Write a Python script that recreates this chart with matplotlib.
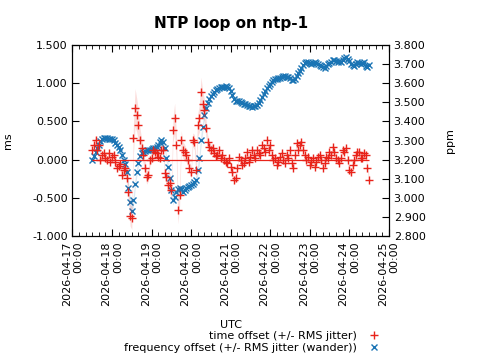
import matplotlib
matplotlib.use("Agg")
import matplotlib.pyplot as plt
import matplotlib.dates as mdates
import numpy as np
import pandas as pd

# hourly samples, starting 2026-04-17 12:00 UTC
times = pd.date_range("2026-04-17 12:00", periods=169, freq="1h")

# time offset (ms)
offset = [0.13, 0.19, 0.26, 0.13, 0.19, -0.01, 0.06, 0.09, 0.02, -0.01,
          0.09, -0.03, 0.03, 0.06, -0.03, -0.11, -0.08, -0.06, -0.20, -0.14,
          -0.11, -0.24, -0.42, -0.73, -0.76, 0.28, 0.68, 0.58, 0.45, 0.26,
          0.15, 0.06, -0.11, -0.23, -0.20, -0.01, 0.02, 0.13, 0.10, 0.09,
          0.03, 0.02, 0.13, 0.13, -0.18, -0.23, -0.33, -0.31, -0.40, 0.39,
          0.54, 0.19, -0.66, -0.46, 0.26, 0.13, 0.10, 0.06, -0.01, -0.11,
          -0.16, 0.26, 0.23, -0.14, 0.45, 0.54, 0.88, 0.73, 0.65, 0.41,
          0.23, 0.16, 0.13, 0.15, 0.09, 0.05, 0.06, 0.13, 0.02, 0.06,
          -0.01, -0.03, -0.04, 0.02, -0.10, -0.16, -0.27, -0.24, -0.11, 0.03,
          -0.01, -0.07, -0.04, 0.02, 0.10, -0.03, 0.03, 0.13, 0.06, 0.02,
          0.13, 0.09, 0.06, 0.19, 0.15, 0.10, 0.26, 0.13, 0.19, 0.06,
          -0.01, 0.02, -0.07, -0.03, 0.03, 0.09, -0.01, -0.04, 0.06, 0.02,
          0.13, -0.04, -0.11, 0.06, 0.22, 0.13, 0.19, 0.23, 0.13, 0.06,
          -0.01, 0.03, -0.07, -0.03, 0.02, -0.10, -0.03, 0.03, 0.06, -0.01,
          -0.11, -0.04, 0.03, 0.02, 0.10, 0.06, 0.16, 0.10, 0.02, -0.01,
          -0.04, 0.02, 0.13, 0.10, 0.15, -0.01, -0.14, -0.16, -0.07, -0.01,
          0.06, 0.10, 0.10, 0.02, 0.02, 0.09, 0.06, -0.11, -0.27]
# RMS jitter (ms)
jitter = [0.05, 0.05, 0.06, 0.06, 0.05, 0.05, 0.04, 0.04, 0.04, 0.04,
          0.04, 0.04, 0.04, 0.04, 0.05, 0.05, 0.05, 0.05, 0.06, 0.07,
          0.08, 0.10, 0.12, 0.14, 0.15, 0.20, 0.25, 0.22, 0.20, 0.15,
          0.12, 0.11, 0.10, 0.09, 0.08, 0.07, 0.06, 0.05, 0.05, 0.05,
          0.05, 0.05, 0.06, 0.07, 0.08, 0.09, 0.10, 0.11, 0.12, 0.16,
          0.20, 0.19, 0.18, 0.15, 0.12, 0.11, 0.10, 0.09, 0.08, 0.08,
          0.08, 0.09, 0.10, 0.12, 0.15, 0.18, 0.20, 0.18, 0.15, 0.12,
          0.10, 0.08, 0.07, 0.06, 0.05, 0.05, 0.05, 0.04, 0.04, 0.04,
          0.04, 0.04, 0.04, 0.04, 0.05, 0.05, 0.05, 0.05, 0.04, 0.04,
          0.04, 0.04, 0.04, 0.04, 0.04, 0.04, 0.04, 0.04, 0.04, 0.04,
          0.04, 0.04, 0.04, 0.04, 0.04, 0.04, 0.05, 0.05, 0.04, 0.04,
          0.04, 0.04, 0.04, 0.04, 0.04, 0.04, 0.04, 0.04, 0.04, 0.04,
          0.04, 0.04, 0.04, 0.04, 0.05, 0.05, 0.04, 0.04, 0.04, 0.04,
          0.04, 0.04, 0.04, 0.04, 0.04, 0.04, 0.04, 0.04, 0.04, 0.04,
          0.04, 0.04, 0.04, 0.04, 0.04, 0.04, 0.05, 0.05, 0.04, 0.04,
          0.04, 0.04, 0.05, 0.05, 0.05, 0.05, 0.05, 0.05, 0.04, 0.04,
          0.04, 0.04, 0.04, 0.04, 0.04, 0.04, 0.04, 0.05, 0.06]

# frequency offset (ppm)
freq = [3.198, 3.219, 3.240, 3.261, 3.276, 3.297, 3.308, 3.313, 3.313, 3.313,
        3.308, 3.308, 3.308, 3.303, 3.287, 3.276, 3.266, 3.250, 3.224, 3.198,
        3.177, 3.135, 3.051, 2.978, 2.931, 2.988, 3.072, 3.135, 3.182, 3.219,
        3.235, 3.240, 3.245, 3.250, 3.250, 3.250, 3.256, 3.261, 3.261, 3.266,
        3.276, 3.292, 3.303, 3.292, 3.261, 3.208, 3.161, 3.104, 3.041, 2.988,
        3.004, 3.030, 3.046, 3.051, 3.046, 3.030, 3.041, 3.051, 3.057, 3.062,
        3.067, 3.072, 3.083, 3.093, 3.146, 3.208, 3.303, 3.371, 3.434, 3.470,
        3.496, 3.517, 3.533, 3.543, 3.554, 3.564, 3.570, 3.575, 3.580, 3.580,
        3.580, 3.585, 3.580, 3.575, 3.559, 3.538, 3.517, 3.507, 3.507, 3.507,
        3.502, 3.496, 3.491, 3.491, 3.486, 3.481, 3.481, 3.475, 3.481, 3.481,
        3.486, 3.496, 3.512, 3.528, 3.543, 3.559, 3.575, 3.585, 3.596, 3.606,
        3.617, 3.622, 3.622, 3.627, 3.627, 3.632, 3.638, 3.638, 3.632, 3.632,
        3.627, 3.617, 3.617, 3.622, 3.638, 3.653, 3.664, 3.680, 3.695, 3.706,
        3.711, 3.711, 3.706, 3.701, 3.706, 3.711, 3.706, 3.701, 3.695, 3.690,
        3.685, 3.680, 3.690, 3.701, 3.706, 3.711, 3.721, 3.721, 3.716, 3.711,
        3.716, 3.711, 3.721, 3.732, 3.737, 3.727, 3.716, 3.701, 3.695, 3.690,
        3.701, 3.711, 3.706, 3.701, 3.706, 3.711, 3.690, 3.685, 3.695]
# RMS wander (ppm)
wander = [0.010, 0.011, 0.012, 0.011, 0.010, 0.009, 0.008, 0.007, 0.006, 0.006,
          0.006, 0.006, 0.006, 0.007, 0.008, 0.009, 0.010, 0.012, 0.015, 0.018,
          0.020, 0.025, 0.030, 0.033, 0.035, 0.033, 0.030, 0.025, 0.020, 0.016,
          0.012, 0.010, 0.008, 0.007, 0.006, 0.006, 0.006, 0.006, 0.006, 0.006,
          0.008, 0.009, 0.010, 0.012, 0.015, 0.020, 0.025, 0.028, 0.030, 0.025,
          0.020, 0.016, 0.012, 0.011, 0.010, 0.009, 0.008, 0.008, 0.008, 0.009,
          0.010, 0.012, 0.015, 0.022, 0.030, 0.033, 0.035, 0.030, 0.025, 0.020,
          0.015, 0.012, 0.010, 0.009, 0.008, 0.007, 0.006, 0.006, 0.006, 0.006,
          0.006, 0.006, 0.006, 0.007, 0.008, 0.009, 0.010, 0.008, 0.006, 0.006,
          0.006, 0.006, 0.006, 0.006, 0.006, 0.006, 0.006, 0.006, 0.006, 0.006,
          0.006, 0.007, 0.008, 0.009, 0.010, 0.010, 0.010, 0.009, 0.008, 0.008,
          0.008, 0.007, 0.006, 0.006, 0.006, 0.006, 0.006, 0.006, 0.006, 0.006,
          0.006, 0.007, 0.008, 0.008, 0.008, 0.009, 0.010, 0.010, 0.010, 0.009,
          0.008, 0.007, 0.006, 0.006, 0.006, 0.006, 0.006, 0.006, 0.006, 0.006,
          0.006, 0.006, 0.006, 0.007, 0.008, 0.008, 0.008, 0.007, 0.006, 0.006,
          0.006, 0.007, 0.008, 0.009, 0.010, 0.009, 0.008, 0.008, 0.008, 0.007,
          0.006, 0.006, 0.006, 0.006, 0.006, 0.007, 0.008, 0.008, 0.008]

red = "#e8231a"
blue = "#1a74b4"

plt.rcParams["font.family"] = "DejaVu Sans"
plt.rcParams["font.size"] = 8

fig = plt.figure(figsize=(4.8, 3.6), dpi=100)
ax = fig.add_axes([0.151, 0.344, 0.659, 0.531])
ax2 = ax.twinx()

off = np.array(offset)
jit = np.array(jitter)
fr = np.array(freq)
wa = np.array(wander)

ax.fill_between(times, off - jit, off + jit, color=red, alpha=0.15, lw=0, zorder=1)
ax2.fill_between(times, fr - wa, fr + wa, color=blue, alpha=0.15, lw=0, zorder=1)
ax.hlines(0, times[0], times[-1], color=red, lw=0.9, zorder=2)
l1, = ax.plot(times, off, "+", color=red, ms=6, mew=1.0, zorder=5,
              label="time offset (+/- RMS jitter)")
l2, = ax2.plot(times, fr, "x", color=blue, ms=5, mew=1.0, zorder=4,
               label="frequency offset (+/- RMS jitter (wander))")

# offset axis drawn over the frequency axis
ax.set_zorder(ax2.get_zorder() + 1)
ax.patch.set_visible(False)

ax.set_ylim(-1.0, 1.5)
ax.set_yticks(np.arange(-1.0, 1.51, 0.5))
ax.yaxis.set_major_formatter(plt.FormatStrFormatter("%.3f"))
ax2.set_ylim(2.8, 3.8)
ax2.set_yticks(np.arange(2.8, 3.801, 0.1))
ax2.yaxis.set_major_formatter(plt.FormatStrFormatter("%.3f"))

ax.set_xlim(pd.Timestamp("2026-04-17"), pd.Timestamp("2026-04-25"))
ax.xaxis.set_major_locator(mdates.DayLocator())
ax.xaxis.set_minor_locator(mdates.HourLocator(byhour=range(0, 24, 4)))
ax.xaxis.set_major_formatter(mdates.DateFormatter("%Y-%m-%d\n%H:%M"))
for lab in ax.get_xticklabels():
    lab.set_rotation(90)
    lab.set_ha("center")
    lab.set_va("top")
    lab.set_multialignment("right")

ax.tick_params(axis="x", which="both", direction="in", top=True, bottom=True)
ax.tick_params(axis="x", which="major", length=5)
ax.tick_params(axis="x", which="minor", length=3)
ax.tick_params(axis="y", direction="in", left=True, right=False, length=5)
ax2.tick_params(axis="y", direction="in", right=True, left=False, length=5)

ax.set_ylabel("ms", labelpad=14)
ax2.set_ylabel("ppm", labelpad=14)
ax.set_xlabel("UTC", labelpad=10)
ax.set_title("NTP loop on ntp-1", fontsize=11, fontweight="bold", pad=12)

fig.legend(handles=[l1, l2], loc="lower right", bbox_to_anchor=(0.812, -0.002),
           frameon=False, markerfirst=False, fontsize=8, handlelength=1.5,
           borderpad=0.2, labelspacing=0.15)

fig.savefig("out.png", dpi=100)
